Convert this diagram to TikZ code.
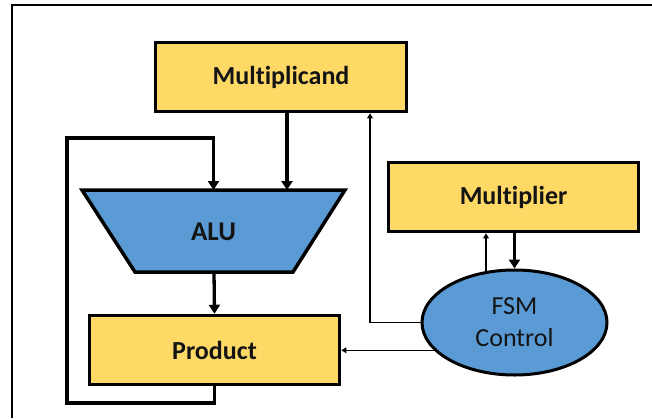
\documentclass[tikz,border=0pt]{standalone}
\usepackage{fontspec}
\setmainfont[Ligatures=NoCommon]{Carlito}
\usetikzlibrary{arrows.meta}
\usetikzlibrary{shapes.geometric}
\definecolor{boxyellow}{HTML}{FFD966}
\definecolor{boxblue}{HTML}{5B9BD5}
\definecolor{ink}{HTML}{141414}
\tikzset{
  regbox/.style={draw=black, line width=3.5pt, fill=boxyellow, minimum width=250pt, minimum height=69pt, inner sep=0pt, font=\fontsize{26}{28}\selectfont\bfseries, text=ink},
  aluedge/.style={draw=black, line width=3.5pt, fill=boxblue, line join=miter},
  alutext/.style={inner sep=0pt, font=\fontsize{27}{28}\selectfont\bfseries, text=ink},
  fsmbox/.style={draw=black, line width=3pt, fill=boxblue, ellipse, minimum width=185pt, minimum height=105pt, inner sep=0pt, align=center, font=\fontsize{26}{32}\selectfont, text=ink},
  bigarrow/.style={line width=3.3pt, -{Triangle[width=11pt,length=9pt]}},
  smallarrow/.style={line width=1.4pt, -{Triangle[width=5.5pt,length=5pt]}},
  framelines/.style={line width=2.5pt},
}
\begin{document}
\begin{tikzpicture}[x=1pt,y=-1pt]
\useasboundingbox (0,0) rectangle (652,418);
% frame (left and top only visible)
\draw[framelines] (12,418) -- (12,5) -- (652,5);

\node[regbox, minimum width=251pt] (mc) at (281,77) {Multiplicand};
\node[regbox] (mp) at (513.5,197) {Multiplier};
\node[regbox] (prod) at (214.5,350) {Product};

% ALU trapezoid
\coordinate (alutl) at (82,190);
\coordinate (alutr) at (345,190);
\coordinate (alubr) at (293,272);
\coordinate (alubl) at (135,272);
\coordinate (alutop) at (213.5,190);
\coordinate (alubot) at (214,272);
\draw[aluedge] (alutl) -- (alutr) -- (alubr) -- (alubl) -- cycle;
\node[alutext] (alu) at (213.5,232) {ALU};

\node[fsmbox] (fsm) at (514.5,322.5) {FSM\\Control};

\coordinate (lb) at (67,403);
\coordinate (lt) at (67,138);

% Multiplicand -> ALU
\draw[bigarrow] (mc.south -| 287,0) -- (alutop -| 287,0);
% feedback loop Product -> ALU
\draw[bigarrow] (prod.south) |- (lb) -- (lt) -| (alutop);
% ALU -> Product
\draw[bigarrow] (alubot) -- (prod.north);
% FSM -> Multiplicand
\draw[smallarrow] (fsm.west) -| (mc.south -| 370,0);
% FSM -> Product
\draw[smallarrow] (fsm.199) -- (fsm.199 -| prod.east);
% FSM -> Multiplier
\draw[smallarrow] (fsm.119) -- (fsm.119 |- mp.south);
% Multiplier -> FSM
\draw[bigarrow] (mp.south -| fsm.north) -- (fsm.north);
\end{tikzpicture}
\end{document}
